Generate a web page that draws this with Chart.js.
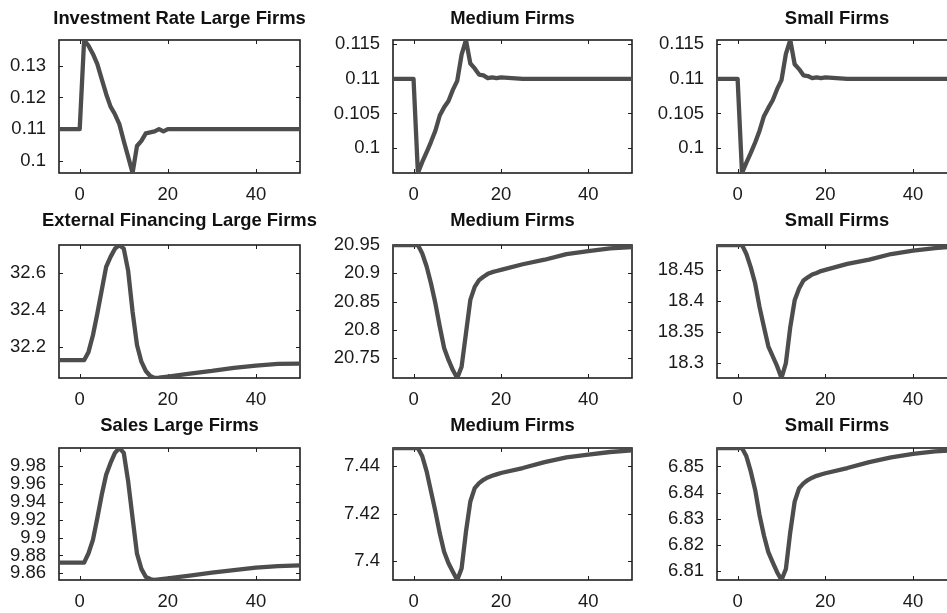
<!DOCTYPE html>
<html>
<head>
<meta charset="utf-8">
<script src="https://cdn.jsdelivr.net/npm/chart.js@4.4.1/dist/chart.umd.min.js"></script>
<style>
  html, body { margin: 0; padding: 0; background: #fff; }
  #wrap { position: relative; width: 947px; height: 613px; overflow: hidden; background: #fff; }
  #wrap canvas { position: absolute; }
</style>
</head>
<body>
<div id="wrap"></div>
<script>
// periods after the shock (quarters), shared by all panels
const periods = [-5, 0, 1, 2, 3, 4, 5, 6, 7, 8, 9, 10, 11, 12, 13, 14, 15, 16, 17, 18, 19, 20, 25, 30, 35, 40, 45, 50];
const xTicks = [0, 20, 40];

// investment rate
const invLarge  = [0.11, 0.11, 0.1381, 0.1363, 0.1337, 0.1305, 0.1258, 0.1211, 0.1171, 0.1147, 0.1116, 0.1063, 0.1013, 0.0962, 0.1047, 0.1063, 0.1087, 0.109, 0.1093, 0.110, 0.1093, 0.110, 0.11, 0.11, 0.11, 0.11, 0.11, 0.11];
const invMedium = [0.11, 0.11, 0.0964, 0.098, 0.0994, 0.1009, 0.1025, 0.1047, 0.1059, 0.1068, 0.1084, 0.1097, 0.1135, 0.1156, 0.1122, 0.1115, 0.1106, 0.1105, 0.1101, 0.1102, 0.1101, 0.1102, 0.11, 0.11, 0.11, 0.11, 0.11, 0.11];
const invSmall  = [0.11, 0.11, 0.0964, 0.0979, 0.0993, 0.1008, 0.1025, 0.1046, 0.1058, 0.1069, 0.1085, 0.1098, 0.1136, 0.1156, 0.1121, 0.1114, 0.1105, 0.1104, 0.1101, 0.1102, 0.1101, 0.1102, 0.11, 0.11, 0.11, 0.11, 0.11, 0.11];

// external financing
const finLarge  = [32.128, 32.128, 32.128, 32.173, 32.263, 32.38, 32.506, 32.632, 32.686, 32.73, 32.75, 32.73, 32.61, 32.39, 32.21, 32.12, 32.07, 32.043, 32.032, 32.034, 32.037, 32.04, 32.056, 32.07, 32.087, 32.099, 32.108, 32.11];
const finMedium = [20.95, 20.95, 20.95, 20.935, 20.912, 20.882, 20.847, 20.806, 20.768, 20.747, 20.729, 20.715, 20.735, 20.794, 20.853, 20.876, 20.888, 20.894, 20.899, 20.902, 20.904, 20.906, 20.916, 20.924, 20.934, 20.939, 20.944, 20.9465];
const finSmall  = [18.49, 18.49, 18.49, 18.4755, 18.454, 18.428, 18.39, 18.358, 18.327, 18.311, 18.295, 18.276, 18.30, 18.358, 18.401, 18.42, 18.433, 18.438, 18.4425, 18.445, 18.448, 18.45, 18.4596, 18.4665, 18.4755, 18.481, 18.485, 18.488];

// sales
const salesLarge  = [9.872, 9.872, 9.872, 9.8825, 9.8975, 9.922, 9.948, 9.9706, 9.9837, 9.995, 10.0005, 9.995, 9.963, 9.922, 9.882, 9.865, 9.856, 9.8536, 9.8525, 9.8532, 9.8538, 9.8544, 9.8574, 9.8607, 9.8637, 9.8664, 9.868, 9.869];
const salesMedium = [7.4478, 7.4478, 7.4478, 7.4443, 7.4379, 7.4294, 7.4209, 7.4116, 7.4038, 7.3989, 7.3953, 7.3918, 7.3967, 7.4123, 7.4251, 7.4308, 7.4329, 7.4343, 7.4353, 7.436, 7.4366, 7.4372, 7.4393, 7.4418, 7.4438, 7.445, 7.4461, 7.4468];
const salesSmall  = [6.8571, 6.8571, 6.8571, 6.8539, 6.8481, 6.841, 6.8313, 6.8235, 6.8171, 6.8132, 6.8094, 6.8064, 6.8106, 6.8248, 6.8365, 6.8416, 6.8435, 6.8448, 6.8457, 6.8464, 6.8469, 6.8474, 6.8494, 6.8517, 6.8535, 6.8548, 6.8558, 6.8563];

// y tick labels
const invLargeTicks    = [0.1, 0.11, 0.12, 0.13];
const invMediumTicks   = [0.1, 0.105, 0.11, 0.115];
const invSmallTicks    = [0.1, 0.105, 0.11, 0.115];
const finLargeTicks    = [32.2, 32.4, 32.6];
const finMediumTicks   = [20.75, 20.8, 20.85, 20.9, 20.95];
const finSmallTicks    = [18.3, 18.35, 18.4, 18.45];
const salesLargeTicks  = [9.86, 9.88, 9.9, 9.92, 9.94, 9.96, 9.98];
const salesMediumTicks = [7.4, 7.42, 7.44];
const salesSmallTicks  = [6.81, 6.82, 6.83, 6.84, 6.85];

const FONT = '"Liberation Sans", Arial, Helvetica, sans-serif';
const AXIS_W = 70, TITLE_H = 38, XAXIS_H = 34, PAD_R = 24;

// plot-area geometry: columns and rows
const cols = [{ left: 59, width: 241 }, { left: 393, width: 239 }, { left: 717, width: 240 }];
const rows = [{ top: 40, height: 133, gap: 21.5 }, { top: 245, height: 133, gap: 24.5 }, { top: 448, height: 132, gap: 22 }];

const panels = [
    { title: 'Investment Rate Large Firms',    values: invLarge,    ticks: invLargeTicks,    col: 0, row: 0 },
    { title: 'Medium Firms',                   values: invMedium,   ticks: invMediumTicks,   col: 1, row: 0 },
    { title: 'Small Firms',                    values: invSmall,    ticks: invSmallTicks,    col: 2, row: 0 },
    { title: 'External Financing Large Firms', values: finLarge,    ticks: finLargeTicks,    col: 0, row: 1 },
    { title: 'Medium Firms',                   values: finMedium,   ticks: finMediumTicks,   col: 1, row: 1 },
    { title: 'Small Firms',                    values: finSmall,    ticks: finSmallTicks,    col: 2, row: 1 },
    { title: 'Sales Large Firms',              values: salesLarge,  ticks: salesLargeTicks,  col: 0, row: 2 },
    { title: 'Medium Firms',                   values: salesMedium, ticks: salesMediumTicks, col: 1, row: 2 },
    { title: 'Small Firms',                    values: salesSmall,  ticks: salesSmallTicks,  col: 2, row: 2 }
];

// box, inward tick marks on all four sides, and the panel title
const framePlugin = {
    id: 'frame',
    beforeDatasetsDraw(chart) {
        const { ctx, chartArea: a, scales: { x, y } } = chart;
        ctx.save();
        ctx.strokeStyle = '#1e1e1e';
        ctx.lineWidth = 1.6;
        ctx.strokeRect(a.left, a.top, a.right - a.left, a.bottom - a.top);
        ctx.beginPath();
        x.ticks.forEach(t => {
            const px = Math.round(x.getPixelForValue(t.value)) + 0.5;
            ctx.moveTo(px, a.bottom); ctx.lineTo(px, a.bottom - 4);
            ctx.moveTo(px, a.top); ctx.lineTo(px, a.top + 4);
        });
        y.ticks.forEach(t => {
            const py = Math.round(y.getPixelForValue(t.value)) + 0.5;
            ctx.moveTo(a.left, py); ctx.lineTo(a.left + 4, py);
            ctx.moveTo(a.right, py); ctx.lineTo(a.right - 4, py);
        });
        ctx.lineWidth = 1;
        ctx.stroke();
        ctx.restore();
    },
    afterDraw(chart, args, opts) {
        const { ctx, chartArea: a } = chart;
        ctx.save();
        ctx.font = 'bold 18.4px ' + FONT;
        ctx.fillStyle = '#111';
        ctx.textAlign = 'center';
        ctx.textBaseline = 'middle';
        ctx.fillText(opts.text, (a.left + a.right) / 2, a.top - opts.gap);
        ctx.restore();
    }
};

const wrap = document.getElementById('wrap');

panels.forEach(p => {
    const c = cols[p.col], r = rows[p.row];
    const canvas = document.createElement('canvas');
    canvas.width = AXIS_W + c.width + PAD_R;
    canvas.height = TITLE_H + r.height + XAXIS_H;
    canvas.style.left = (c.left - AXIS_W) + 'px';
    canvas.style.top = (r.top - TITLE_H) + 'px';
    wrap.appendChild(canvas);

    new Chart(canvas.getContext('2d'), {
        type: 'line',
        data: {
            datasets: [{
                data: periods.map((t, i) => ({ x: t, y: p.values[i] })),
                borderColor: '#4d4d4d',
                borderWidth: 4.3,
                borderJoinStyle: 'round',
                pointRadius: 0,
                tension: 0
            }]
        },
        options: {
            responsive: false,
            animation: false,
            events: [],
            layout: { padding: { top: TITLE_H, right: PAD_R, bottom: 0, left: 0 } },
            plugins: {
                legend: { display: false },
                tooltip: { enabled: false },
                frame: { text: p.title, gap: r.gap }
            },
            scales: {
                x: {
                    type: 'linear',
                    min: -4.7,
                    max: 50,
                    afterBuildTicks: s => { s.ticks = xTicks.map(v => ({ value: v })); },
                    afterFit: s => { s.height = XAXIS_H; },
                    grid: { display: false, drawTicks: false },
                    border: { display: false },
                    ticks: {
                        autoSkip: false,
                        maxRotation: 0,
                        padding: 11,
                        color: '#1a1a1a',
                        font: { family: FONT, size: 18.5 },
                        callback: v => String(v)
                    }
                },
                y: {
                    type: 'linear',
                    min: Math.min(...p.values),
                    max: Math.max(...p.values),
                    afterBuildTicks: s => { s.ticks = p.ticks.map(v => ({ value: v })); },
                    afterFit: s => { s.width = AXIS_W; },
                    grid: { display: false, drawTicks: false },
                    border: { display: false },
                    ticks: {
                        autoSkip: false,
                        padding: 13,
                        color: '#1a1a1a',
                        font: { family: FONT, size: 18.5 },
                        callback: v => String(v)
                    }
                }
            }
        },
        plugins: [framePlugin]
    });
});
</script>
</body>
</html>
